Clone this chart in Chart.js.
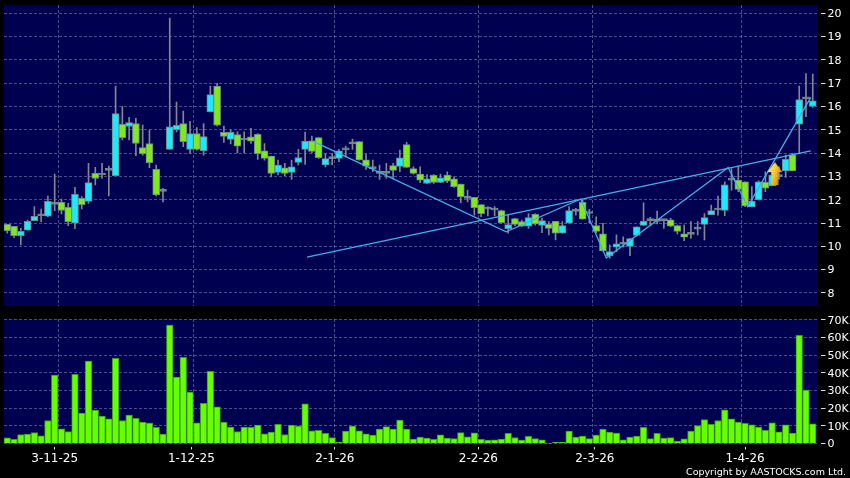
<!DOCTYPE html>
<html>
<head>
<meta charset="utf-8">
<script src="https://cdn.jsdelivr.net/npm/chart.js@4/dist/chart.umd.min.js"></script>
<style>
html, body { margin: 0; padding: 0; background: #000; width: 850px; height: 478px; overflow: hidden; }
canvas { position: absolute; left: 0; }
#price { top: 0; }
#vol { top: 310px; }
#copy { position: absolute; right: 4px; top: 465.5px; color: #fff; font: 9.5px "DejaVu Sans", sans-serif; white-space: nowrap; }
</style>
</head>
<body>
<canvas id="price" width="850" height="310"></canvas>
<canvas id="vol" width="850" height="168"></canvas>
<div id="copy">Copyright by AASTOCKS.com Ltd.</div>
<script>
const opens = [10.94,10.86,10.46,10.69,11.10,11.31,11.29,11.80,11.89,11.67,
    10.99,12.06,11.93,13.13,13.06,13.26,13.03,15.23,15.14,15.27,
    14.24,14.41,13.30,12.36,14.16,15.00,15.27,14.16,14.84,14.10,
    15.77,16.87,14.89,14.59,14.79,14.56,14.70,14.80,14.10,13.87,
    13.17,13.37,13.17,13.60,14.16,14.53,14.66,13.49,13.76,13.77,
    14.14,14.40,14.49,13.71,13.33,13.13,13.13,13.46,13.43,14.36,
    13.33,13.10,12.70,13.06,12.74,13.06,12.90,12.67,12.06,12.10,
    11.79,11.59,11.56,11.53,10.76,11.19,11.06,10.86,11.37,10.90,
    10.94,11.07,10.56,10.99,11.50,11.89,11.41,10.89,10.54,9.59,
    9.96,10.09,10.00,10.47,10.90,11.10,11.07,11.10,11.14,10.89,
    10.54,10.51,10.74,10.94,11.36,11.56,11.54,12.84,12.84,12.77,
    11.69,11.99,12.76,12.59,12.99,13.24,13.93,15.24,16.33,16.01];
const closes = [10.67,10.46,10.64,11.07,11.29,11.31,11.93,11.80,11.54,11.06,
    12.23,11.79,12.74,12.91,13.06,13.26,15.70,14.66,15.31,14.41,
    13.97,13.59,12.21,12.36,15.13,15.19,14.49,14.84,14.16,14.71,
    16.51,15.20,14.71,14.89,14.30,14.56,14.51,13.98,13.77,13.13,
    13.49,13.13,13.41,13.81,14.50,14.07,13.80,13.76,13.76,14.10,
    14.14,14.40,13.71,13.44,13.33,13.13,13.13,13.26,13.80,13.38,
    13.13,12.84,12.90,12.74,12.94,12.80,12.56,12.13,12.06,11.66,
    11.40,11.59,11.56,11.01,10.93,10.94,10.87,11.23,10.96,11.10,
    10.77,10.56,10.89,11.53,11.50,11.16,11.41,10.64,9.80,9.77,
    10.11,10.09,10.33,10.84,11.07,11.10,11.07,11.10,10.86,10.64,
    10.39,10.51,10.74,11.23,11.53,11.56,12.64,12.84,12.44,11.73,
    11.94,12.77,12.50,13.06,12.99,13.73,13.24,16.30,16.33,16.24];
const highs = [10.94,10.86,10.77,11.13,11.70,11.60,12.16,13.10,12.03,11.84,
    12.53,12.13,13.56,13.39,13.56,13.44,16.87,15.99,15.53,15.49,
    15.20,14.99,13.49,12.49,19.79,16.19,15.80,15.36,15.09,15.27,
    16.87,16.99,15.16,14.99,14.91,14.91,15.06,14.84,14.41,13.87,
    13.70,13.56,13.70,14.16,14.90,14.73,14.67,13.98,13.98,14.16,
    14.30,14.60,14.49,13.96,13.70,13.49,13.56,13.56,14.13,14.46,
    13.41,13.41,13.08,13.08,13.10,13.20,12.98,12.67,12.41,12.10,
    11.79,11.70,11.70,11.56,11.34,11.20,11.13,11.41,11.41,11.20,
    11.06,11.07,11.06,11.70,11.63,12.01,11.59,11.27,10.99,10.06,
    10.49,10.41,10.34,10.84,11.87,11.24,11.51,11.16,11.20,10.91,
    10.91,11.06,11.06,11.41,11.77,12.16,12.77,13.34,13.44,12.77,
    12.56,12.81,13.20,13.27,13.41,13.91,13.99,16.87,17.41,17.39];
const lows = [10.56,10.37,10.06,10.69,11.10,11.06,11.27,11.53,11.39,10.89,
    10.76,11.60,11.84,12.63,12.91,12.16,13.03,14.56,14.56,13.89,
    13.91,13.37,12.16,11.91,14.16,14.91,14.27,13.99,14.13,13.91,
    15.77,15.17,14.46,14.39,14.01,14.01,14.41,13.73,13.70,12.98,
    13.06,13.03,12.87,13.49,13.51,14.01,13.77,13.41,13.49,13.63,
    13.84,14.16,13.70,13.30,13.20,12.87,12.91,12.89,13.20,13.38,
    13.10,12.73,12.70,12.70,12.73,12.73,12.53,11.87,11.91,11.34,
    11.27,11.30,11.30,10.99,10.56,10.89,10.84,10.77,10.91,10.59,
    10.49,10.27,10.56,10.99,11.34,11.16,10.99,10.59,9.80,9.49,
    9.77,9.96,9.60,10.44,10.90,10.89,10.96,10.77,10.84,10.53,
    10.24,10.34,10.49,10.27,11.36,11.34,11.31,12.41,12.34,11.70,
    11.69,11.99,12.34,12.59,12.87,12.96,13.24,13.96,15.56,15.96];
const volumes = [3.2,2.3,5.1,5.3,6.2,4.4,13,38.8,8.3,6.8,39.2,17.2,46.7,18.9,15.5,14,48.2,13,16.1,14.2,
    12.1,11.5,9.1,5.3,67,37.6,48.8,29.1,11.7,22.7,40.9,20.8,12.1,9.3,6.8,9.3,9.1,10.4,5.5,6.4,
    10.9,5.1,10.4,9.8,22.5,7.2,7.5,5.7,3.4,0.6,7,9.8,7.2,5.5,4.7,8.1,9.6,8.1,13.2,8.1,
    2.5,3.6,3,2.3,4.9,3,2.8,6.2,3.8,6,2.3,1.9,2.1,2.5,5.8,3.4,1.9,4,2.8,2.1,
    0.1,0.6,0.6,7,3.6,4.2,2.8,4.7,8.1,6.4,5.9,2.1,3.6,4.2,9.1,2.8,5.7,3,3.4,1.3,
    2.6,7,10.2,13.6,10.8,13,19.1,14,12.1,11.4,10.6,9.3,7.4,11.7,6.6,10.6,5.9,61.3,30.3,11.2];

const priceTicks = [8,9,10,11,12,13,14,15,16,17,18,19,20];
const volTicks = [0,10000,20000,30000,40000,50000,60000,70000];
const dateIndex = [7,27.2,48.4,69.6,86.8,109];
const dateLabels = ['3-11-25','1-12-25','2-1-26','2-2-26','2-3-26','1-4-26'];
const gridIndex = [7.53,27.47,48.4,69.63,86.5,108.5];

// drawn trend line and the zigzag, x in bar index and y in price
const trendX = [44.27,118.7];
const trendY = [9.54,14.09];
const zigzagX = [45.2,73.7,84.7,88.5,106.5,109.4,118.7];
const zigzagY = [14.5,10.62,12.03,9.5,13.38,11.7,16.39];
const arrowX = [113.4];
const arrowY = [13.1];

const NAVY = '#000050';
const GRID = 'rgba(140,140,190,0.55)';
const LINE = '#45aee8';
const xMin = -0.487, xMax = 119.7;

function bodyColor(i){
    if (closes[i] === opens[i]) return '#8a9090';
    return closes[i] > opens[i] ? '#1ee8fb' : '#80e81e';
}

const panelBg = {
    id: 'panelBg',
    beforeDraw(c){
        const a = c.chartArea;
        c.ctx.fillStyle = NAVY;
        c.ctx.fillRect(a.left, a.top, a.width, a.height);
    }
};

function makeArrow(){
    const cv = document.createElement('canvas');
    cv.width = 16; cv.height = 24;
    const g = cv.getContext('2d');
    const grad = g.createLinearGradient(0,0,16,6);
    grad.addColorStop(0,'#fff6b0');
    grad.addColorStop(0.55,'#ffd030');
    grad.addColorStop(1,'#d89a10');
    g.fillStyle = grad;
    g.beginPath();
    g.moveTo(8,0); g.lineTo(15.5,10); g.lineTo(11.5,10); g.lineTo(11.5,23);
    g.lineTo(4.5,23); g.lineTo(4.5,10); g.lineTo(0.5,10);
    g.closePath();
    g.fill();
    return cv;
}

function noPad(s){
    s.paddingLeft = 0; s.paddingRight = 0; s.paddingTop = 0; s.paddingBottom = 0;
}

function xAxes(showLabels){
    return {
        x: {
            type: 'linear', min: xMin, max: xMax, offset: false,
            afterBuildTicks: s => { s.ticks = dateIndex.map(v => ({value: v})) },
            afterFit: s => { s.height = showLabels ? 34.5 : 0; noPad(s) },
            border: {display: false},
            grid: {offset: false, drawOnChartArea: false, drawTicks: showLabels, tickLength: 6, tickColor: '#ddd', tickBorderDash: [0,3,3]},
            ticks: {
                display: showLabels, autoSkip: false, maxRotation: 0, color: '#fff', padding: 2,
                font: {family: 'DejaVu Sans', size: 12},
                callback: v => dateLabels[dateIndex.indexOf(v)]
            }
        },
        xg: {
            type: 'linear', position: 'top', min: xMin, max: xMax, offset: false,
            afterBuildTicks: s => { s.ticks = gridIndex.map(v => ({value: v})) },
            afterFit: s => { s.height = 0; noPad(s) },
            border: {display: false, dash: [3,2]},
            grid: {offset: false, color: GRID, drawTicks: false, lineWidth: 1},
            ticks: {display: false}
        }
    };
}

function yAxis(min, max, ticks, fmt){
    return {
        position: 'right', min: min, max: max, beginAtZero: false,
        afterBuildTicks: s => { s.ticks = ticks.map(v => ({value: v})) },
        afterFit: s => { s.width = 32.5; noPad(s) },
        border: {display: false, dash: [3,2]},
        grid: {color: GRID, tickColor: '#ddd', tickLength: 8, tickBorderDash: [0,3,5], lineWidth: 1},
        ticks: {color: '#fff', padding: 2, labelOffset: 1, font: {family: 'DejaVu Sans', size: 11}, callback: fmt}
    };
}

const idx = opens.map((v,i) => i);

new Chart(document.getElementById('price'), {
    type: 'bar',
    data: {
        datasets: [
            {
                type: 'scatter', order: 0,
                data: arrowX.map((v,i) => ({x: v, y: arrowY[i]})),
                pointStyle: makeArrow(), pointRadius: 10, showLine: false
            },
            {
                type: 'scatter', order: 1, showLine: true, pointRadius: 0,
                borderColor: LINE, borderWidth: 1.3,
                data: trendX.map((v,i) => ({x: v, y: trendY[i]}))
            },
            {
                type: 'scatter', order: 1, showLine: true, pointRadius: 0,
                borderColor: LINE, borderWidth: 1.3,
                data: zigzagX.map((v,i) => ({x: v, y: zigzagY[i]}))
            },
            {
                order: 2, grouped: false, barThickness: 7,
                data: idx.map(i => ({x: i, y: [opens[i], closes[i]]})),
                backgroundColor: idx.map(bodyColor),
                borderColor: '#6f8a8a', borderWidth: 1, borderSkipped: false, minBarLength: 2
            },
            {
                order: 3, grouped: false, barThickness: 1,
                data: idx.map(i => ({x: i, y: [lows[i], highs[i]]})),
                backgroundColor: '#85858f'
            }
        ]
    },
    options: {
        responsive: false, animation: false,
        layout: {autoPadding: false, padding: {left: 4, top: 5.3, bottom: 4, right: 0}},
        plugins: {legend: {display: false}, tooltip: {enabled: false}},
        scales: Object.assign(xAxes(false), {y: yAxis(7.44, 20.34, priceTicks, v => v)})
    },
    plugins: [panelBg]
});

new Chart(document.getElementById('vol'), {
    type: 'bar',
    data: {
        datasets: [{
            barThickness: 6.6,
            data: idx.map(i => ({x: i, y: volumes[i]*1000})),
            backgroundColor: '#66ff00',
            borderColor: '#3c9a14', borderWidth: 1
        }]
    },
    options: {
        responsive: false, animation: false,
        layout: {autoPadding: false, padding: {left: 4, top: 9, bottom: 0, right: 0}},
        plugins: {legend: {display: false}, tooltip: {enabled: false}},
        scales: Object.assign(xAxes(true), {y: yAxis(0, 70500, volTicks, v => v === 0 ? '0' : (v/1000)+'K')})
    },
    plugins: [panelBg]
});
</script>
</body>
</html>
